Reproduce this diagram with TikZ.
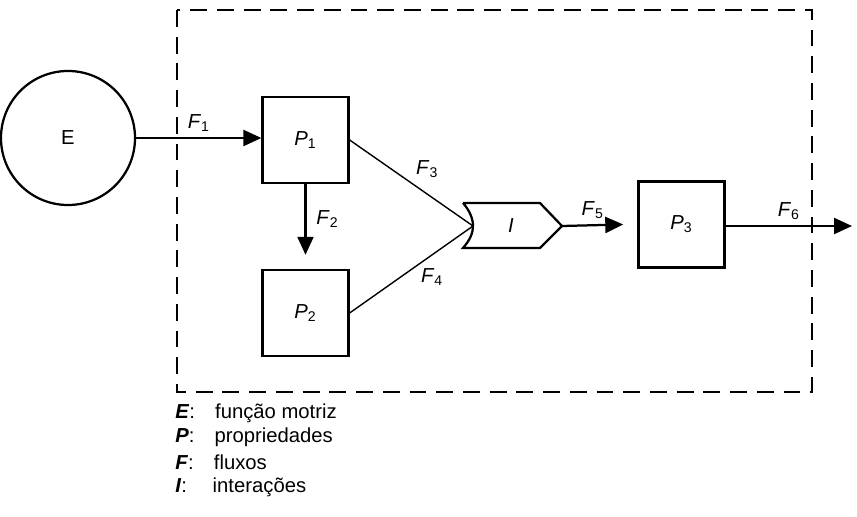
\documentclass[tikz,border=0pt]{standalone}
\usepackage{fontspec}
\setmainfont{Liberation Sans}
\usetikzlibrary{arrows.meta}
\newcommand{\fl}[2]{\textit{#1}\textsubscript{#2}}
\tikzset{%
  proc/.style={rectangle, draw, line width=1.6pt, minimum size=2.15cm, font=\Large},
  flow/.style={line width=1.6pt, -{Triangle[length=4.5mm, width=4mm]}},
  link/.style={line width=1pt},
  lbl/.style={font=\Large, inner sep=1pt},
  legend/.style={font=\Large, anchor=west, inner sep=0pt}}
\begin{document}
\begin{tikzpicture}[x=0.025cm, y=-0.025cm]
    \useasboundingbox (0,0) rectangle (857,517);
    \draw[line width=1.6pt, dash pattern=on 12pt off 7pt] (177,10) rectangle (812,392);

    \node[circle, draw, line width=1.6pt, minimum size=3.35cm, font=\Large] (E) at (68,138) {E};
    \node[proc] (P1) at (305.5,140) {\fl{P}{1}};
    \node[proc] (P2) at (305.5,313) {\fl{P}{2}};
    \node[proc] (P3) at (681.5,224.5) {\fl{P}{3}};

    % interaction gate
    \draw[line width=1.6pt] (463,203) -- (540,203) -- (562,226) -- (540,248) -- (463,248)
        .. controls (470,240) and (473,233) .. (473,226) .. controls (473,219) and (470,211) .. (463,203);
    \node[font=\Large\itshape] (I) at (511,226) {I};
    \coordinate (Iin) at (473,226);
    \coordinate (Iout) at (562,226);
    \coordinate (out) at (852,226);

    \draw[flow] (E.east |- 0,138) -- (P1.west |- 0,138) node[lbl, midway, above=3pt] {\fl{F}{1}};
    \draw[flow] (P1.south) -- ([yshift=10pt]P2.north) node[lbl, midway, right=6pt] {\fl{F}{2}};
    \draw[link] (P1.east) -- (Iin) node[lbl, pos=0.5, above right=2pt] {\fl{F}{3}};
    \draw[link] (P2.east) -- (Iin) node[lbl, pos=0.55, below right=1pt] {\fl{F}{4}};
    \draw[flow] (Iout) -- ([xshift=-10pt]P3.west) node[lbl, midway, above=3pt] {\fl{F}{5}};
    \draw[flow] (P3.east |- Iout) -- (out) node[lbl, midway, above=3pt] {\fl{F}{6}};

    \node[legend] (lE) at (175,413) {\textbf{\textit{E}}:\quad função motriz};
    \node[legend] (lP) at (175,437) {\textbf{\textit{P}}:\quad propriedades};
    \node[legend] (lF) at (175,462) {\textbf{\textit{F}}:\quad fluxos};
    \node[legend] (lI) at (175,487) {\textbf{\textit{I}}:\quad\ interações};
\end{tikzpicture}
\end{document}
